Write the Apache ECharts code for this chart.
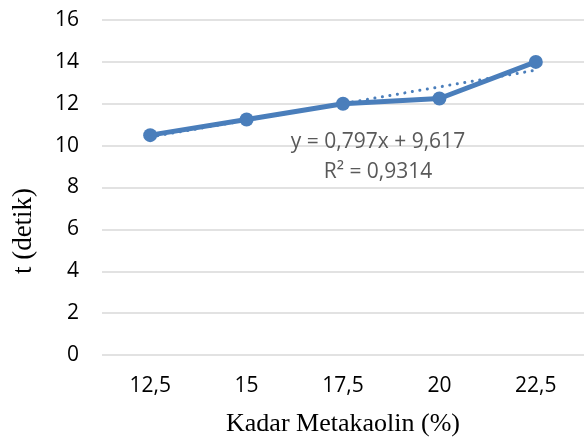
<!DOCTYPE html>
<html>
<head>
<meta charset="utf-8">
<script src="https://cdn.jsdelivr.net/npm/echarts@6/dist/echarts.min.js"></script>
<style>
  html, body { margin: 0; padding: 0; background: #fff; }
  #chart { width: 584px; height: 439px; }
</style>
</head>
<body>
<div id="chart"></div>
<script>
// Metakaolin content categories and measured times
const categories = ['12,5', '15', '17,5', '20', '22,5'];
const timeValues = [10.5, 11.25, 12.0, 12.25, 14.0];
const yTicks = [0, 2, 4, 6, 8, 10, 12, 14, 16];

// Linear trendline, as stated in its own label: y = 0,797x + 9,617
const trendSlope = 0.797;
const trendIntercept = 9.617;
const trendLabel = ['y = 0,797x + 9,617', 'R² = 0,9314'];
const trendValues = categories.map((c, i) => trendSlope * (i + 1) + trendIntercept);

const xTitle = 'Kadar Metakaolin (%)';
const yTitle = 't (detik)';

const blue = '#4a7ebb';
const labelFont = { color: '#595959', fontFamily: 'Open Sans', fontSize: 21, fontWeight: 'normal' };

const chart = echarts.init(document.getElementById('chart'));
chart.setOption({
  animation: false,
  title: [
    { text: trendLabel[0], left: 378, top: 132, textAlign: 'center', padding: 0, textStyle: labelFont },
    { text: trendLabel[1], left: 378, top: 162, textAlign: 'center', padding: 0, textStyle: labelFont }
  ],
  grid: { left: 102, right: 0, top: 20, bottom: 84, containLabel: false, outerBoundsMode: 'none' },
  xAxis: {
    type: 'category',
    data: categories,
    boundaryGap: true,
    axisLine: { show: false },
    axisTick: { show: false },
    axisLabel: { color: '#000', fontFamily: 'Open Sans', fontSize: 21, margin: 21 },
    name: xTitle,
    nameLocation: 'middle',
    nameGap: 56,
    nameTextStyle: { color: '#000', fontFamily: 'Liberation Serif', fontSize: 26 }
  },
  yAxis: {
    type: 'value',
    min: yTicks[0],
    max: yTicks[yTicks.length - 1],
    interval: 2,
    axisLine: { show: false },
    axisTick: { show: false },
    splitLine: { lineStyle: { color: '#d9d9d9', width: 1.5 } },
    axisLabel: { color: '#000', fontFamily: 'Open Sans', fontSize: 21, margin: 23 }
  },
  series: [
    {
      type: 'line',
      data: trendValues,
      symbol: 'none',
      lineStyle: { color: blue, width: 3, type: [0.1, 7.5], cap: 'round' },
      z: 3
    },
    {
      type: 'line',
      data: timeValues,
      symbol: 'circle',
      symbolSize: 14,
      itemStyle: { color: blue },
      lineStyle: { color: blue, width: 5 },
      z: 2
    }
  ],
  graphic: [
    {
      type: 'text', x: 24, y: 231, rotation: Math.PI / 2,
      style: { text: yTitle, fill: '#000', font: '27px "Liberation Serif"', align: 'center', verticalAlign: 'middle' }
    }
  ]
});
</script>
</body>
</html>
